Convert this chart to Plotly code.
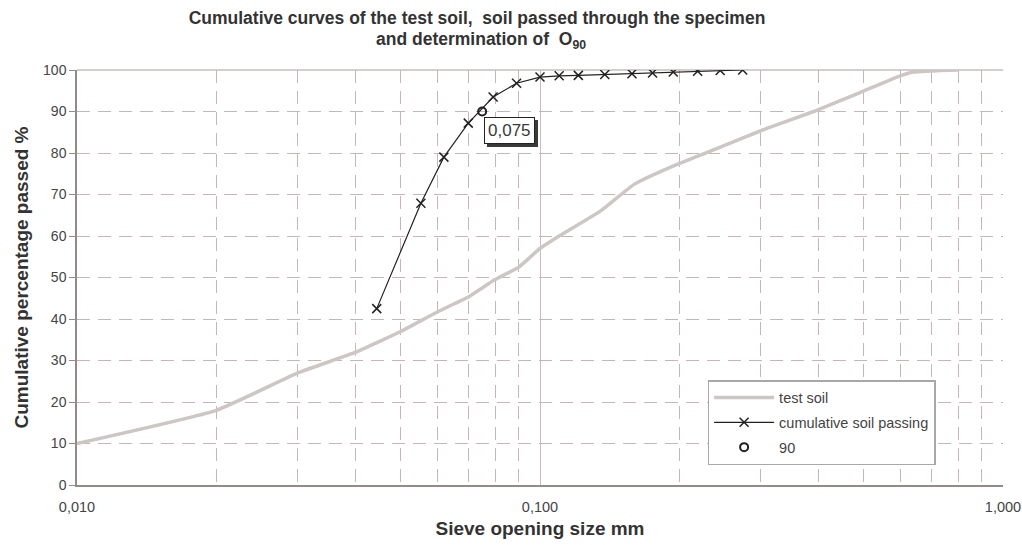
import math
import plotly.graph_objects as go

# Test soil grading curve
soil_x = [0.010, 0.020, 0.030, 0.040, 0.050, 0.060, 0.070, 0.080, 0.090, 0.100,
          0.110, 0.135, 0.160, 0.200, 0.240, 0.310, 0.390, 0.490, 0.590, 0.640, 0.800]
soil_y = [10, 18, 27, 32, 37, 41.7, 45.3, 49.5, 52.5, 57,
          60, 66, 72.5, 77.5, 81, 86, 90, 94.5, 98.3, 99.5, 100]

# Cumulative soil passing through the specimen
pass_x = [0.0444, 0.0553, 0.0620, 0.0700, 0.0792, 0.0890, 0.100, 0.110, 0.121,
          0.138, 0.158, 0.175, 0.194, 0.219, 0.245, 0.274]
pass_y = [42.5, 67.9, 79, 87.2, 93.5, 96.8, 98.3, 98.6, 98.7,
          98.9, 99.1, 99.3, 99.5, 99.7, 99.9, 100]

# O90 point
o90_x = [0.075]
o90_y = [90]
o90_label = "0,075"

x_major = [0.01, 0.1, 1.0]
x_major_text = ["0,010", "0,100", "1,000"]
x_minor = [0.02, 0.03, 0.04, 0.05, 0.06, 0.07, 0.08, 0.09,
           0.2, 0.3, 0.4, 0.5, 0.6, 0.7, 0.8, 0.9]
y_ticks = list(range(0, 101, 10))

title_1 = "<b>Cumulative curves of the test soil,  soil passed through the specimen</b>"
title_2 = "<b>and determination of  O<sub>90</sub></b>"

grid_col = "#c6b6b6"
axis_col = "#958a8a"
font = "Liberation Sans, Arial, sans-serif"

W, H = 1022, 545

fig = go.Figure()
fig.add_trace(go.Scatter(x=soil_x, y=soil_y, mode="lines", name="test soil",
                         line=dict(color="#ccc6c5", width=3.5, shape="spline", smoothing=0.4),
                         legendgroup="a"))
fig.add_trace(go.Scatter(x=pass_x, y=pass_y, mode="lines+markers",
                         name="cumulative soil passing", legendgroup="b",
                         line=dict(color="#222222", width=1.2),
                         marker=dict(symbol="x-thin", size=9, line=dict(color="#222222", width=1.5))))
fig.add_trace(go.Scatter(x=o90_x, y=o90_y, mode="markers", name="90", legendgroup="c",
                         marker=dict(symbol="circle-open", size=8, color="#222222",
                                     line=dict(color="#222222", width=2))))

# label box with drop shadow (log axis -> annotation x in log10 units)
lx = math.log10(o90_x[0])
fig.add_annotation(x=lx, y=o90_y[0], xref="x", yref="y", text=o90_label,
                   showarrow=True, arrowcolor="rgba(0,0,0,0)", ax=30, ay=22,
                   font=dict(family=font, size=17, color="#3a3a3a"),
                   bgcolor="#3a3a3a", bordercolor="#3a3a3a", borderwidth=1, borderpad=3)
fig.add_annotation(x=lx, y=o90_y[0], xref="x", yref="y", text=o90_label,
                   showarrow=True, arrowcolor="rgba(0,0,0,0)", ax=27, ay=19,
                   font=dict(family=font, size=17, color="#3a3a3a"),
                   bgcolor="white", bordercolor="#222222", borderwidth=1, borderpad=3)

# second title line
fig.add_annotation(x=0.436, y=1.072, xref="paper", yref="paper", text=title_2,
                   showarrow=False, xanchor="center", yanchor="middle",
                   font=dict(family=font, size=17.5, color="#333333"))

fig.add_shape(type="line", xref="paper", yref="paper", x0=0, x1=1, y0=1, y1=1,
              line=dict(color="#c8bcbc", width=1.5), layer="below")

fig.update_layout(
    width=W, height=H,
    margin=dict(l=77, r=19, t=70, b=60, autoexpand=False),
    paper_bgcolor="white", plot_bgcolor="white",
    font=dict(family=font, color="#333333"),
    title=dict(text=title_1, xref="container", yref="container",
               x=477 / W, xanchor="center", y=1 - 18 / H, yanchor="middle",
               font=dict(family=font, size=17.5, color="#333333")),
    showlegend=True,
    legend=dict(x=0.681, y=0.253, xanchor="left", yanchor="top",
                bgcolor="white", bordercolor="#a8a8a8", borderwidth=1.5,
                font=dict(family=font, size=14.5, color="#444444"),
                tracegroupgap=3, itemwidth=60),
    xaxis=dict(type="log", range=[-2, 0], tickvals=x_major, ticktext=x_major_text,
               automargin=False,
               showgrid=True, gridcolor="#c8bcbc", gridwidth=1.3,
               showline=True, linecolor=axis_col, linewidth=1.5,
               ticks="", ticklabelstandoff=8,
               tickfont=dict(family=font, size=14.5, color="#444444"),
               minor=dict(tickvals=x_minor, showgrid=True, gridcolor=grid_col,
                          griddash="13px,8px", gridwidth=1.2),
               title=dict(text="<b>Sieve opening size mm</b>", standoff=8,
                          font=dict(family=font, size=19, color="#333333")),
               zeroline=False),
    yaxis=dict(range=[0, 100], tickvals=y_ticks, automargin=False,
               showgrid=True, gridcolor=grid_col, griddash="13px,8px", gridwidth=1.2,
               showline=True, linecolor=axis_col, linewidth=1.5,
               ticks="outside", ticklen=6, tickcolor=axis_col,
               tickfont=dict(family=font, size=14, color="#444444"),
               title=dict(text="<b>Cumulative percentage passed %</b>", standoff=9,
                          font=dict(family=font, size=19, color="#333333")),
               zeroline=False),
)

fig.write_html("out.html", config={"displayModeBar": False},
               post_script="document.body.style.margin='0';document.body.style.overflow='hidden';")
